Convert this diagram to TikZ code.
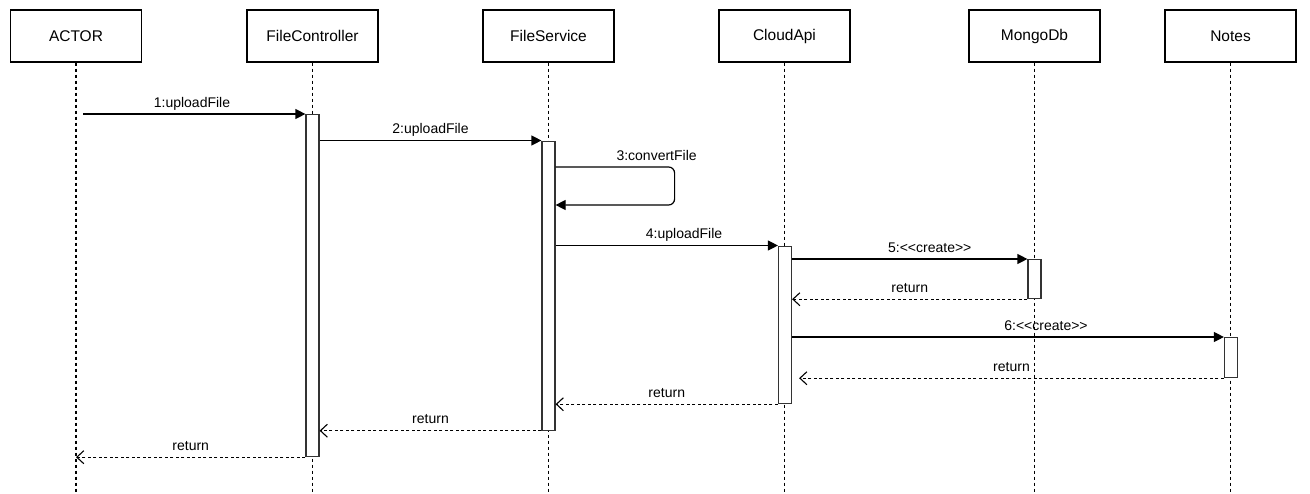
\documentclass[tikz,border=0pt]{standalone}
\usepackage{fontspec}
\setmainfont{Liberation Sans}
\usetikzlibrary{arrows.meta}
\begin{document}
\begin{tikzpicture}[x=1pt,y=-1pt,
  obj/.style={draw=black, line width=1.2pt, minimum width=131pt, minimum height=52pt, inner sep=0pt, font=\fontsize{15.5}{18}\selectfont},
  bar/.style={draw=black!80, fill=white, line width=1.2pt, minimum width=13pt, inner sep=0pt, anchor=north},
  life/.style={line width=1.1pt, dash pattern=on 3pt off 3pt},
  call/.style={line width=1.2pt, -{Triangle[length=10pt,width=10pt]}},
  ret/.style={line width=1.1pt, dash pattern=on 3pt off 2.5pt, -{Straight Barb[length=7pt,width=13pt,line width=1.1pt]}},
  lbl/.style={font=\fontsize{14}{16}\selectfont, anchor=base, yshift=7pt, inner sep=0pt}
]
\useasboundingbox (0,0) rectangle (1310,493);

% objects
\node[obj] (actor) at (76,36) {ACTOR};
\node[obj] (fc) at (312.5,36) {FileController};
\node[obj] (fs) at (548.5,36) {FileService};
\node[obj] (ca) at (784.5,36) {CloudApi};
\node[obj] (mdb) at (1034.5,36) {MongoDb};
\node[obj] (notes) at (1230.5,36) {Notes};

% lifeline ends
\coordinate (actorend) at (76,493);
\coordinate (fcend) at (312.5,493);
\coordinate (fsend) at (548.5,493);
\coordinate (caend) at (784.5,493);
\coordinate (mdbend) at (1034.5,493);
\coordinate (notesend) at (1230.5,493);

\draw[life] (actor.south) -- (actorend);
\draw[life] (fc.south) -- (fcend);
\draw[life] (fs.south) -- (fsend);
\draw[life] (ca.south) -- (caend);
\draw[life] (mdb.south) -- (mdbend);
\draw[life] (notes.south) -- (notesend);

% activation bars
\node[bar, minimum height=342pt] (fcbar) at (312.5,114) {};
\node[bar, minimum height=289pt] (fsbar) at (548.5,140.5) {};
\node[bar, minimum height=157.5pt] (cabar) at (785,245.5) {};
\node[bar, minimum height=39pt] (mbar) at (1034.5,259) {};
\node[bar, minimum height=40pt] (nbar) at (1231,337) {};

% 1
\draw[call] ([xshift=7pt]actor.south |- fcbar.north) -- node[lbl, pos=0.49] {1:uploadFile} (fcbar.north west);
% 2
\draw[call] (fcbar.east |- fsbar.north) -- node[lbl, pos=0.5] {2:uploadFile} (fsbar.north west);
% 3 self
\coordinate (s3a) at ([yshift=-26.5pt]fsbar.north east);
\coordinate (s3b) at ([yshift=-64.5pt]fsbar.north east);
\draw[call, rounded corners=6pt] (s3a) -- ++(119,0) coordinate (s3c) |- (s3b);
\node[lbl] (l3) at ([xshift=-18pt]s3c) {3:convertFile};
% 4
\draw[call] (fsbar.east |- cabar.north) -- node[lbl, pos=0.578] {4:uploadFile} (cabar.north west);
% 5
\draw[call] (cabar.east |- mbar.north) -- node[lbl, pos=0.585] {5:<{}<create>{}>} (mbar.north west);
\draw[ret] (mbar.south west) -- node[lbl, pos=0.5] {return} (cabar.east |- mbar.south);
% 6
\draw[call] (cabar.east |- nbar.north) -- node[lbl, pos=0.588] {6:<{}<create>{}>} (nbar.north west);
\draw[ret] (nbar.south west) -- node[lbl, pos=0.5] {return} ([xshift=7pt]cabar.east |- nbar.south);
% returns
\draw[ret] (cabar.south west) -- node[lbl, pos=0.5] {return} (fsbar.east |- cabar.south);
\draw[ret] (fsbar.south west) -- node[lbl, pos=0.5] {return} (fcbar.east |- fsbar.south);
\draw[ret] (fcbar.south west) -- node[lbl, pos=0.5] {return} (actor.south |- fcbar.south);
\end{tikzpicture}
\end{document}
